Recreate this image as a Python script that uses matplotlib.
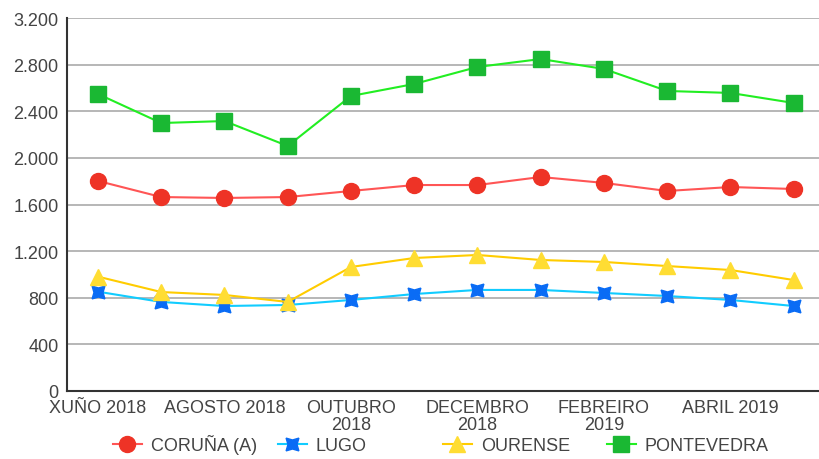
import matplotlib.pyplot as plt
from matplotlib.ticker import FuncFormatter

plt.rcParams['font.family'] = ['Liberation Sans', 'DejaVu Sans']

meses = ['XUÑO 2018', 'XULLO 2018', 'AGOSTO 2018', 'SETEMBRO 2018', 'OUTUBRO\n2018',
         'NOVEMBRO 2018', 'DECEMBRO\n2018', 'XANEIRO 2019', 'FEBREIRO\n2019',
         'MARZO 2019', 'ABRIL 2019', 'MAIO 2019']

coruna = [1802, 1664, 1656, 1664, 1716, 1767, 1767, 1836, 1785, 1716, 1750, 1733]
lugo = [852, 764, 729, 738, 781, 832, 867, 867, 841, 815, 781, 729]
ourense = [981, 849, 824, 764, 1064, 1141, 1167, 1124, 1107, 1072, 1038, 952]
pontevedra = [2548, 2299, 2316, 2102, 2531, 2634, 2780, 2848, 2763, 2574, 2557, 2471]

fig = plt.figure(figsize=(8.19, 4.60), dpi=100)
ax = fig.add_axes([67/819, 1 - 392/460, 1 - 67/819, (392 - 19)/460])

x = list(range(len(meses)))
l1, = ax.plot(x, coruna, color='#ff5555', lw=1.5, marker='o', ms=11.5,
              mfc='#ee3326', mec='#ee3326', label='CORUÑA (A)')
l2, = ax.plot(x, lugo, color='#11ccff', lw=1.5, marker=(4, 1, 45), ms=13,
              mfc='#0a6cf5', mec='#0a6cf5', label='LUGO')
l3, = ax.plot(x, ourense, color='#ffcc00', lw=1.5, marker='^', ms=12,
              mfc='#ffdd33', mec='#ffdd33', label='OURENSE')
l4, = ax.plot(x, pontevedra, color='#22ee22', lw=1.5, marker='s', ms=11,
              mfc='#1ab833', mec='#1ab833', label='PONTEVEDRA')

ax.set_ylim(0, 3200)
ax.set_yticks(range(0, 3201, 400))
ax.yaxis.set_major_formatter(FuncFormatter(lambda v, p: f'{int(v):,}'.replace(',', '.')))
ax.set_xlim(-0.49, 11.40)
ax.set_xticks(x[::2])
ax.set_xticklabels(meses[::2], linespacing=1.0)

ax.grid(axis='y', color='#aaaaaa', lw=1.2)
ax.set_axisbelow(True)
for s in ['top', 'right']:
    ax.spines[s].set_visible(False)
ax.spines['left'].set_color('#333333')
ax.spines['bottom'].set_color('#333333')
ax.spines['left'].set_linewidth(1.5)
ax.spines['bottom'].set_linewidth(1.5)
ax.tick_params(length=0, labelsize=13, colors='#444444', pad=6)
ax.tick_params(axis='x', pad=6)

# lenda en catro columnas fixas, como no orixinal
xs = [113, 278, 443, 607]
for h, px in zip([l1, l2, l3, l4], xs):
    leg = fig.legend(handles=[h], loc='lower left', bbox_to_anchor=(px/819, 5/460),
                     frameon=False, fontsize=13, handlelength=1.6, handletextpad=0.5,
                     borderpad=0, borderaxespad=0, labelcolor='#444444')

fig.savefig('out.png', dpi=100)
